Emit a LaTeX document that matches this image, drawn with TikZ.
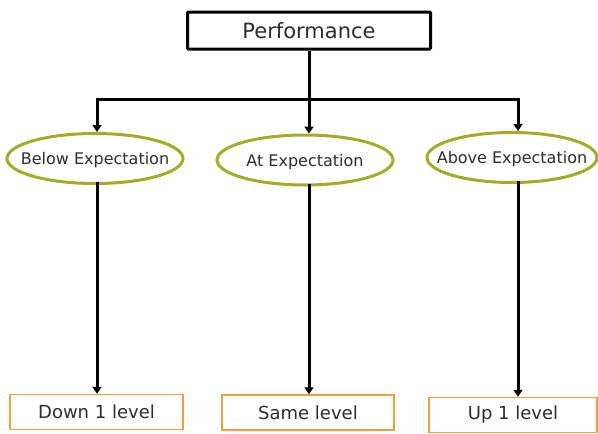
\documentclass[tikz,border=0pt]{standalone}
\usepackage{fontspec}
\setmainfont{DejaVu Sans}
\usetikzlibrary{shapes.geometric,arrows.meta}
\definecolor{olive}{RGB}{160,172,42}
\definecolor{amber}{RGB}{232,160,64}
\definecolor{ink}{RGB}{45,45,45}
\tikzset{
  headbox/.style={draw=black,line width=3pt,rounded corners=1pt,minimum width=243pt,minimum height=37pt,inner sep=0pt,text=ink,font=\fontsize{21}{24}\selectfont},
  ratingoval/.style={ellipse,draw=olive,line width=3pt,minimum height=50pt,inner ysep=0pt,inner xsep=-40pt,text depth=0pt,text=ink,font=\fontsize{16}{18}\selectfont},
  outcomebox/.style={draw=amber,line width=1.5pt,minimum height=35pt,inner sep=0pt,text=ink,font=\fontsize{18}{20}\selectfont},
  link/.style={draw=black,line width=3pt},
  arrowlink/.style={link,-{Triangle[width=9pt,length=7pt]}}
}
\begin{document}
\begin{tikzpicture}[x=1pt,y=-1pt]
\useasboundingbox (0,0) rectangle (598,434);

% top box
\node[headbox] (perf) at (309,30.5) {Performance};

% rating ellipses
\node[ratingoval,minimum width=176pt] (below) at (95,158.5) {Below Expectation};
\node[ratingoval,minimum width=176pt] (at) at (305,160) {At Expectation};
\node[ratingoval,minimum width=170pt] (above) at (512,157.5) {Above Expectation};

% outcome boxes
\node[outcomebox,minimum width=173pt] (down) at (96.5,412) {Down 1 level};
\node[outcomebox,minimum width=172pt] (same) at (308,412.5) {Same level};
\node[outcomebox,minimum width=168pt] (up) at (513,415) {Up 1 level};

% branch points
\coordinate (jm) at (309,99);
\coordinate (jl) at (97,99);
\coordinate (jr) at (518,99);

% tree connectors
\draw[link] (perf.south -| jm) -- (jm);
\draw[link] ([xshift=-1.5pt]jl) -- ([xshift=1.5pt]jr);
\draw[arrowlink] (jl) -- (jl |- below.north);
\draw[arrowlink] (jm) -- (jm |- at.north);
\draw[arrowlink] (jr) -- (jr |- above.north);

% outcome connectors
\draw[arrowlink] ([yshift=3pt]jl |- below.south) -- (jl |- down.north);
\draw[arrowlink] ([yshift=3pt]jm |- at.south) -- (jm |- same.north);
\draw[arrowlink] ([yshift=3pt]jr |- above.south) -- (jr |- up.north);
\end{tikzpicture}
\end{document}
